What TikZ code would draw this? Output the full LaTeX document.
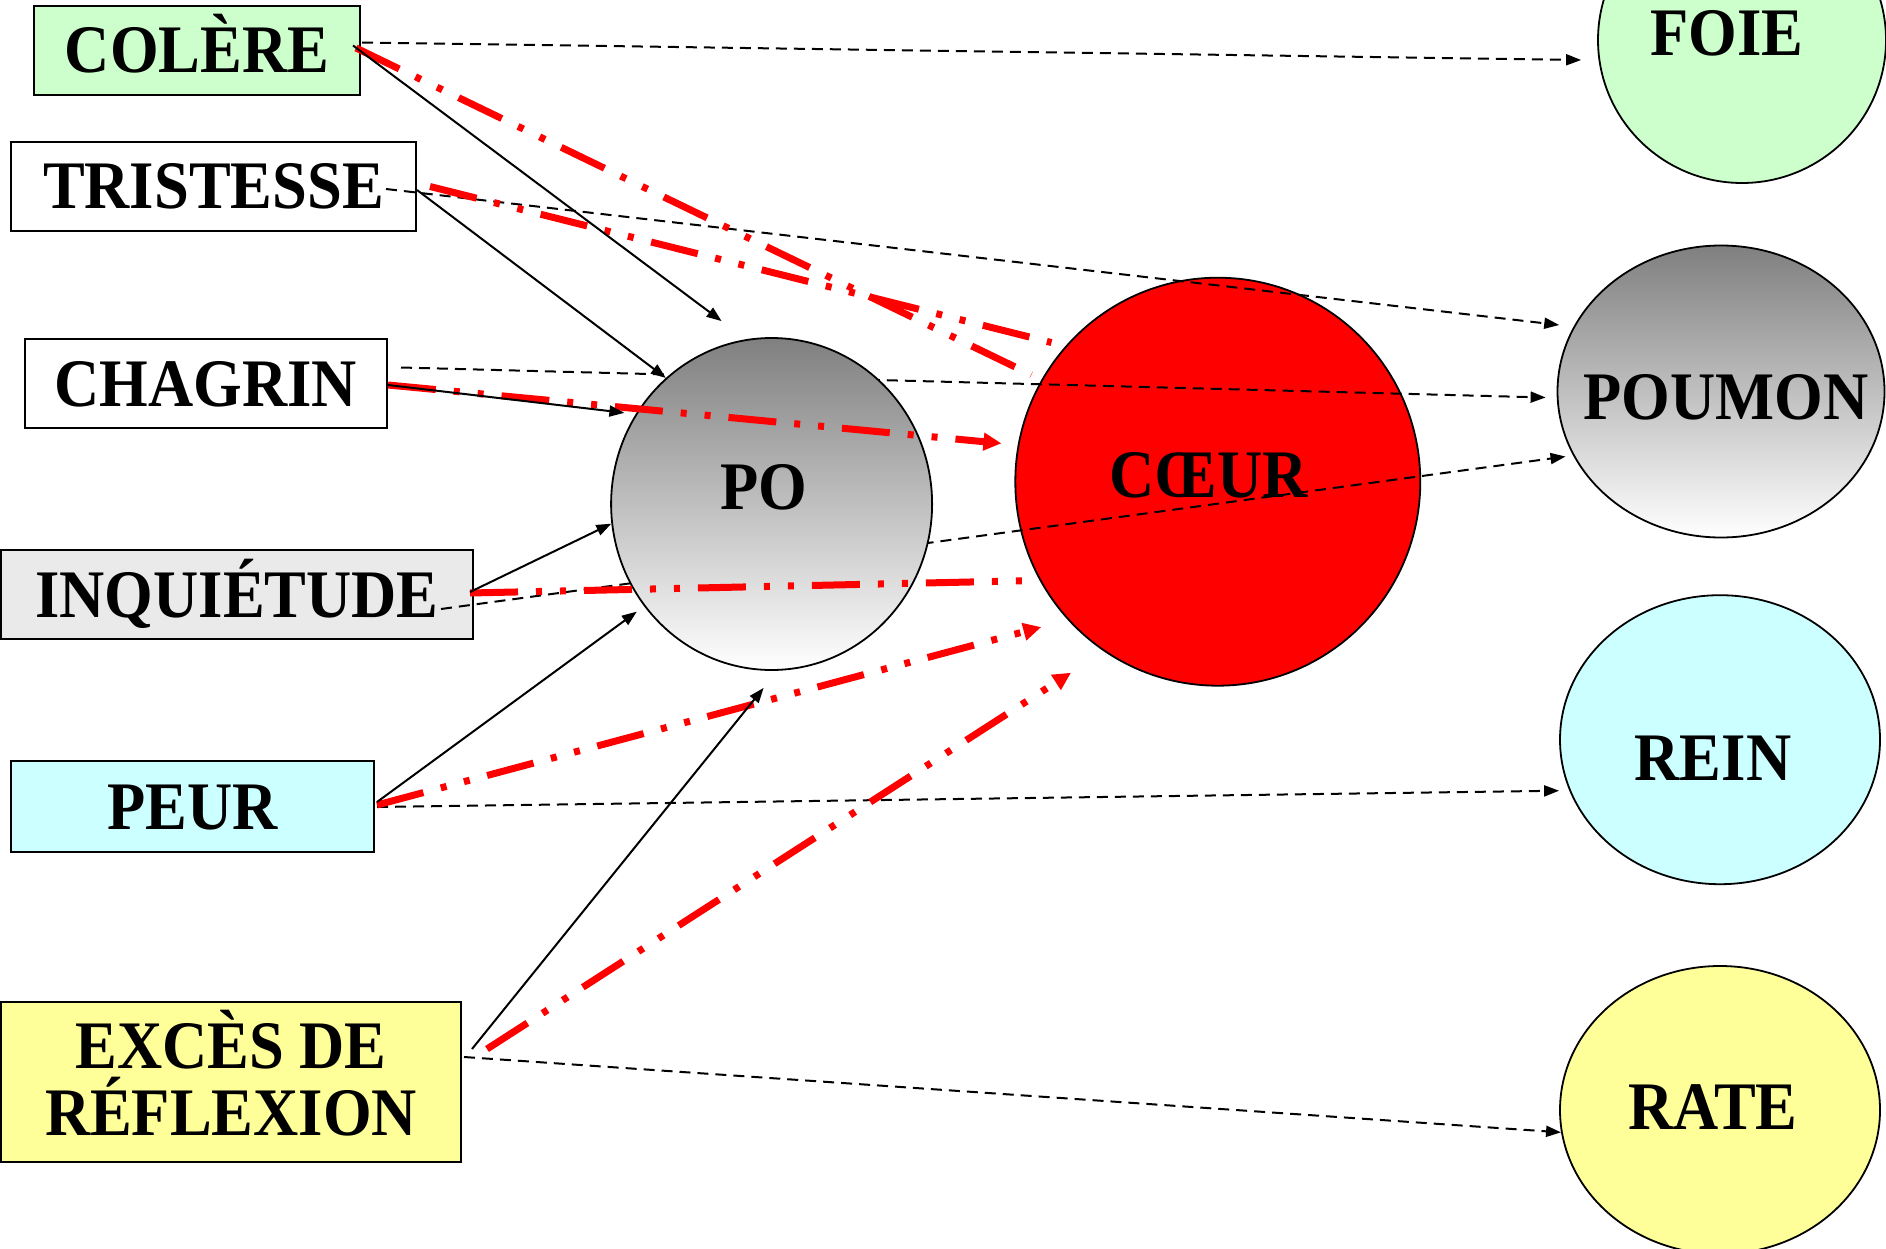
\documentclass[tikz,border=0pt]{standalone}
\usepackage{fontspec}
\newfontfamily\lblfont{Liberation Serif}[FakeStretch=0.92]
\usetikzlibrary{arrows.meta,calc,shapes.geometric}
\pgfdeclarelayer{lyA}\pgfdeclarelayer{lyB}\pgfdeclarelayer{lyC}
\pgfsetlayers{lyA,lyB,lyC,main}
\definecolor{lgreen}{HTML}{CCFFCC}
\definecolor{lcyan}{HTML}{CCFFFF}
\definecolor{lyellow}{HTML}{FFFF99}
\definecolor{lgray}{HTML}{EAEAEA}
\begin{document}
\begin{tikzpicture}[x=1pt,y=-1pt,
  bigfont/.style={font=\lblfont\bfseries\fontsize{68}{67}\selectfont},
  lbl/.style={bigfont, inner sep=0pt, text height=45pt, text depth=0pt},
  emobox/.style={draw, line width=2pt, minimum height=89pt, inner sep=0pt, lbl},
  organ/.style={draw, line width=1.8pt, ellipse, inner sep=0pt},
  blk/.style={draw, line width=2pt, -{Triangle[length=15pt,width=11pt]}},
  dsh/.style={draw, line width=2pt, dash pattern=on 11pt off 7pt, -{Triangle[length=15pt,width=11pt]}},
  rd/.style={draw=red, line width=7pt, dash pattern=on 48pt off 18pt on 6pt off 18pt on 6pt off 18pt},
  rdarrow/.style={rd, -{Triangle[length=18pt,width=17pt]}}
]
\useasboundingbox (0,0) rectangle (1886,1249);

\begin{pgfonlayer}{lyA}
\node[emobox, fill=lgreen, minimum width=326pt] (colere) at (197,50.5) {COLÈRE};
\node[emobox, fill=white, minimum width=405pt] (tristesse) at (213.5,186.5) {TRISTESSE};
\node[emobox, fill=white, minimum width=362pt] (chagrin) at (206,383.5) {CHAGRIN};
\node[emobox, fill=lgray, minimum width=472pt] (inquietude) at (237,594.5) {INQUIÉTUDE};
\node[emobox, fill=lcyan, minimum width=363pt, minimum height=91pt] (peur) at (192.5,806.5) {PEUR};
\node[draw, line width=2pt, inner sep=0pt, fill=lyellow,
      minimum width=460pt, minimum height=160pt,
      label={[bigfont, inner sep=0pt, align=center, yshift=9pt]center:{EXCÈS DE\\RÉFLEXION}}] (exces) at (231,1082) {};

\node[organ, fill=lgreen, minimum width=288pt, minimum height=286pt,
      label={[lbl,xshift=-15pt,yshift=7pt]center:FOIE}] (foie) at (1742,40) {};
\node[organ, top color=black!50, bottom color=white, minimum width=327pt, minimum height=292pt,
      label={[lbl,xshift=5pt,yshift=-5.5pt]center:POUMON}] (poumon) at (1721,391.5) {};
\node[organ, fill=lcyan, minimum width=320pt, minimum height=289pt,
      label={[lbl,xshift=-7pt,yshift=-18pt]center:REIN}] (rein) at (1720,739.7) {};
\node[organ, fill=lyellow, minimum width=320pt, minimum height=288pt,
      label={[lbl,xshift=-7pt,yshift=3pt]center:RATE}] (rate) at (1720,1110) {};
\node[organ, fill=red, minimum width=405pt, minimum height=408pt,
      label={[lbl,xshift=-9pt,yshift=7pt]center:CŒUR}] (coeur) at (1217.8,481.7) {};
\end{pgfonlayer}

\begin{pgfonlayer}{lyC}
\node[organ, top color=black!50, bottom color=white, minimum width=321pt, minimum height=332pt,
      label={[lbl,xshift=-8pt,yshift=17pt]center:PO}] (po) at (771.6,504) {};
\end{pgfonlayer}

% dashed connectors to organs (behind PO, above CŒUR)
\begin{pgfonlayer}{lyB}
\draw[dsh] ($(colere.east)+(1,-8)$) -- ($(foie.west)+(-16,20)$);
\draw[dsh] ($(tristesse.east)+(-31,2.5)$) -- ($(poumon.158)+(-12,-6)$);
\draw[dsh] ($(chagrin.east)+(13,-16)$) -- ($(poumon.west)+(-11,6)$);
\draw[dsh] ($(inquietude.east)+(-33,14.5)$) -- ($(poumon.203)+(-7,2)$);
\draw[dsh] ($(peur.east)+(2,0.5)$) -- ($(rein.west)+(0,51)$);
\draw[dsh] ($(exces.east)+(2,-25)$) -- (rate.188);
\end{pgfonlayer}

% red dash-dot-dot connectors to CŒUR
\draw[rd] ($(colere.east)+(-5,-2.5)$) -- ($(coeur.150)+(-10,-5)$);
\draw[rd] ($(tristesse.east)+(13,0)$) -- ($(coeur.140)+(-10,-8)$);
\draw[rdarrow] ($(chagrin.east)+(0,1.5)$) -- ($(coeur.170)+(-16,-3)$);
\draw[rd] ($(inquietude.east)+(-4,-1.5)$) -- (coeur.209);
\draw[rdarrow] ($(peur.east)+(2,-1.5)$) -- ($(coeur.219)+(-18,17)$);
\draw[rdarrow] ($(exces.east)+(25,-33)$) -- ($(coeur.232)+(-21,30)$);

% black solid connectors to PO
\draw[blk] ($(colere.east)+(-8,-5)$) -- ($(po.north)+(-50,-16)$);
\draw[blk] ($(tristesse.east)+(0,3.5)$) -- (po.130);
\draw[blk] ($(chagrin.east)+(0,1.5)$) -- ($(po.146)+(-12,0)$);
\draw[blk] ($(inquietude.east)+(-4,-2.5)$) -- (po.187);
\draw[blk] ($(peur.east)+(2,-4.5)$) -- ($(po.218)+(-6,7)$);
\draw[blk] ($(exces.east)+(10,-33)$) -- ($(po.south)+(-8,17)$);
\end{tikzpicture}
\end{document}
